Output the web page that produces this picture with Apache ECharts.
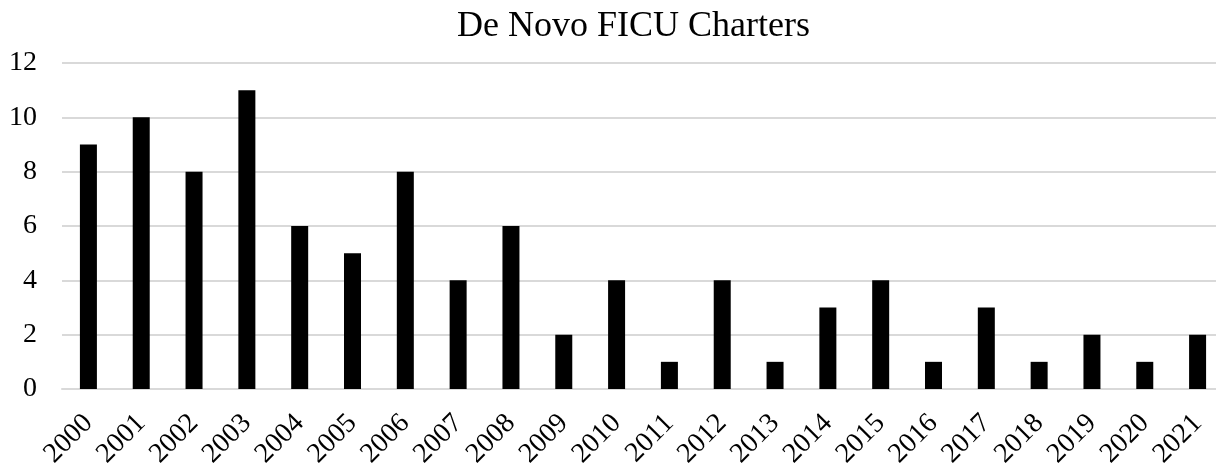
<!DOCTYPE html>
<html>
<head>
<meta charset="utf-8">
<script src="https://cdn.jsdelivr.net/npm/echarts@6/dist/echarts.min.js"></script>
<style>
  html, body { margin: 0; padding: 0; background: #fff; }
  #chart { width: 1216px; height: 468px; }
</style>
</head>
<body>
<div id="chart"></div>
<script>
// years and charters per year
var years = ['2000', '2001', '2002', '2003', '2004', '2005', '2006', '2007', '2008', '2009', '2010',
    '2011', '2012', '2013', '2014', '2015', '2016', '2017', '2018', '2019', '2020', '2021'];
var charters = [9, 10, 8, 11, 6, 5, 8, 4, 6, 2, 4, 1, 4, 1, 3, 4, 1, 3, 1, 2, 1, 2];
var yTicks = [0, 2, 4, 6, 8, 10, 12];

var chart = echarts.init(document.getElementById('chart'));
var font = '"Liberation Serif", "Times New Roman", serif';

var option = {
    animation: false,
    title: {
        text: 'De Novo FICU Charters',
        left: 452,
        top: 4,
        textStyle: { fontFamily: font, fontSize: 36, fontWeight: 'normal', color: '#000' }
    },
    grid: {
        left: 62,
        top: 63,
        width: 1162,
        height: 326,
        outerBoundsMode: 'none',
        containLabel: false
    },
    xAxis: {
        type: 'category',
        data: years,
        axisTick: { show: false },
        axisLine: { lineStyle: { color: '#d9d9d9', width: 2 } },
        axisLabel: {
            rotate: 45,
            interval: 0,
            margin: 30,
            color: '#000',
            fontFamily: font,
            fontSize: 28
        }
    },
    yAxis: {
        type: 'value',
        min: yTicks[0],
        max: yTicks[yTicks.length - 1],
        interval: 2,
        axisLine: { show: false },
        axisTick: { show: false },
        splitLine: { lineStyle: { color: '#d9d9d9', width: 2 } },
        axisLabel: {
            margin: 25,
            color: '#000',
            fontFamily: font,
            fontSize: 28
        }
    },
    series: [{
        type: 'bar',
        data: charters,
        barWidth: 17,
        itemStyle: { color: '#000' }
    }]
};

chart.setOption(option);
</script>
</body>
</html>
